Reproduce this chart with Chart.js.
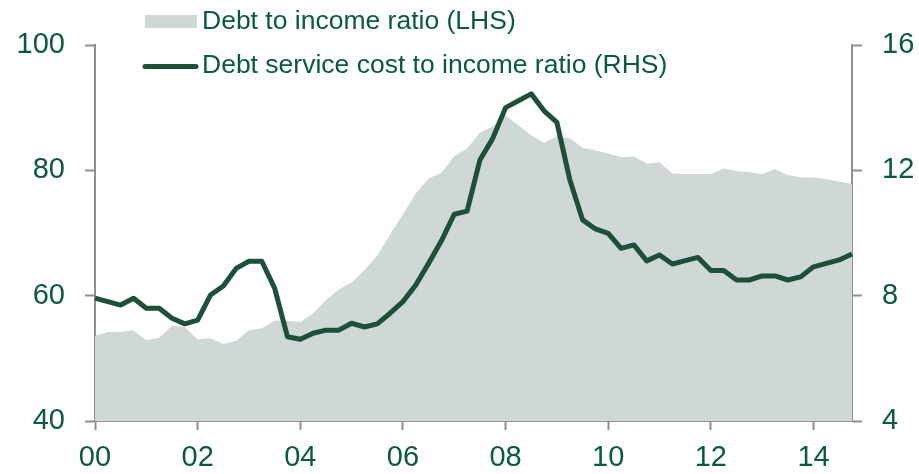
<!DOCTYPE html>
<html>
<head>
<meta charset="utf-8">
<script src="https://cdn.jsdelivr.net/npm/chart.js@4.4.1/dist/chart.umd.min.js"></script>
<style>
  html, body { margin: 0; padding: 0; background: #ffffff; }
  #wrap { width: 919px; height: 474px; }
</style>
</head>
<body>
<div id="wrap"><canvas id="chart" width="919" height="474"></canvas></div>
<script>
// Quarterly observations, 2000Q1 - 2014Q4
const quarters = [
  '2000Q1','2000Q2','2000Q3','2000Q4','2001Q1','2001Q2','2001Q3','2001Q4',
  '2002Q1','2002Q2','2002Q3','2002Q4','2003Q1','2003Q2','2003Q3','2003Q4',
  '2004Q1','2004Q2','2004Q3','2004Q4','2005Q1','2005Q2','2005Q3','2005Q4',
  '2006Q1','2006Q2','2006Q3','2006Q4','2007Q1','2007Q2','2007Q3','2007Q4',
  '2008Q1','2008Q2','2008Q3','2008Q4','2009Q1','2009Q2','2009Q3','2009Q4',
  '2010Q1','2010Q2','2010Q3','2010Q4','2011Q1','2011Q2','2011Q3','2011Q4',
  '2012Q1','2012Q2','2012Q3','2012Q4','2013Q1','2013Q2','2013Q3','2013Q4',
  '2014Q1','2014Q2','2014Q3','2014Q4'
];

// Household debt to income ratio, % (left axis)
const debtToIncome = [
  53.6, 54.2, 54.2, 54.5, 52.9, 53.3, 55.2, 55.0,
  53.0, 53.2, 52.3, 52.8, 54.5, 54.8, 56.0, 56.0,
  55.8, 57.2, 59.3, 61.0, 62.1, 64.1, 66.4, 69.8,
  73.0, 76.3, 78.7, 79.6, 82.3, 83.5, 86.0, 87.0,
  88.8, 87.2, 85.6, 84.4, 85.4, 85.1, 83.6, 83.2,
  82.7, 82.1, 82.2, 81.1, 81.3, 79.5, 79.4, 79.4,
  79.4, 80.3, 79.9, 79.7, 79.4, 80.2, 79.25, 78.9,
  78.8, 78.6, 78.2, 77.8
];

// Debt service cost to income ratio, % (right axis)
const debtServiceCost = [
  7.92, 7.81, 7.70, 7.92, 7.60, 7.60, 7.28, 7.10,
  7.22, 8.02, 8.31, 8.87, 9.10, 9.10, 8.24, 6.69,
  6.61, 6.80, 6.90, 6.90, 7.12, 7.00, 7.10, 7.44,
  7.81, 8.34, 9.03, 9.75, 10.60, 10.70, 12.33, 13.02,
  14.00, 14.22, 14.44, 13.90, 13.53, 11.71, 10.42, 10.13,
  9.99, 9.51, 9.62, 9.11, 9.30, 9.01, 9.12, 9.22,
  8.80, 8.80, 8.50, 8.50, 8.63, 8.63, 8.50, 8.60,
  8.92, 9.03, 9.14, 9.33
];

// Year labels shown every eighth quarter
const yearTickLabels = ['00', '02', '04', '06', '08', '10', '12', '14'];
const leftTicks = [40, 60, 80, 100];
const rightTicks = [4, 8, 12, 16];

const TEXT = '#0b5a3b';
const LINE = '#1e4f39';
const AREA = '#cfd8d6';
const AXIS = '#8f8f8f';
const FONT = 'Liberation Sans, Arial, sans-serif';

// Legend drawn in the top-left corner, overlapping the plot
const cornerLegend = {
  id: 'cornerLegend',
  afterDraw(chart) {
    const ctx = chart.ctx;
    const ds = chart.data.datasets;
    ctx.save();
    ctx.font = '26.5px ' + FONT;
    ctx.textBaseline = 'middle';
    ctx.textAlign = 'left';

    // area swatch
    ctx.fillStyle = AREA;
    ctx.fillRect(145, 15, 52, 13);
    ctx.fillStyle = TEXT;
    ctx.fillText(ds[1].label, 202, 22);

    // line swatch
    ctx.strokeStyle = LINE;
    ctx.lineWidth = 5;
    ctx.lineCap = 'round';
    ctx.beginPath();
    ctx.moveTo(145, 66.5);
    ctx.lineTo(196, 66.5);
    ctx.stroke();
    ctx.fillText(ds[0].label, 202, 66);
    ctx.restore();
  }
};

new Chart(document.getElementById('chart'), {
  type: 'line',
  data: {
    labels: quarters,
    datasets: [
      {
        label: 'Debt service cost to income ratio (RHS)',
        data: debtServiceCost,
        yAxisID: 'y1',
        borderColor: LINE,
        borderWidth: 5,
        borderJoinStyle: 'round',
        pointRadius: 0,
        tension: 0,
        fill: false,
        order: 1
      },
      {
        label: 'Debt to income ratio (LHS)',
        data: debtToIncome,
        yAxisID: 'y',
        borderWidth: 0,
        borderColor: 'rgba(0,0,0,0)',
        backgroundColor: AREA,
        pointRadius: 0,
        tension: 0,
        fill: 'start',
        order: 2
      }
    ]
  },
  options: {
    responsive: false,
    animation: false,
    devicePixelRatio: 1,
    layout: { padding: { top: 45, left: 0, right: 0, bottom: 0 } },
    plugins: {
      legend: { display: false },
      tooltip: { enabled: false }
    },
    scales: {
      x: {
        type: 'category',
        offset: false,
        border: { color: AXIS, width: 2 },
        grid: {
          drawOnChartArea: false,
          drawTicks: true,
          tickLength: 9,
          tickWidth: 2,
          tickColor: (c) => (c.index % 8 === 0 ? AXIS : 'rgba(0,0,0,0)')
        },
        ticks: {
          autoSkip: false,
          maxRotation: 0,
          minRotation: 0,
          padding: 11,
          color: TEXT,
          font: { family: FONT, size: 29 },
          callback: (v, i) => (i % 8 === 0 ? yearTickLabels[i / 8] : '')
        },
        afterFit: (s) => { s.height = 53; }
      },
      y: {
        position: 'left',
        min: 40,
        max: 100,
        afterBuildTicks: (s) => { s.ticks = leftTicks.map(v => ({ value: v })); },
        border: { color: AXIS, width: 2 },
        grid: { drawOnChartArea: false, tickLength: 10, tickWidth: 2, tickColor: AXIS },
        ticks: { padding: 20, color: TEXT, font: { family: FONT, size: 29 } },
        afterFit: (s) => { s.width = 95; }
      },
      y1: {
        position: 'right',
        min: 4,
        max: 16,
        afterBuildTicks: (s) => { s.ticks = rightTicks.map(v => ({ value: v })); },
        border: { color: AXIS, width: 2 },
        grid: { drawOnChartArea: false, tickLength: 10, tickWidth: 2, tickColor: AXIS },
        ticks: { padding: 20, color: TEXT, font: { family: FONT, size: 29 } },
        afterFit: (s) => { s.width = 67; }
      }
    }
  },
  plugins: [cornerLegend]
});
</script>
</body>
</html>
